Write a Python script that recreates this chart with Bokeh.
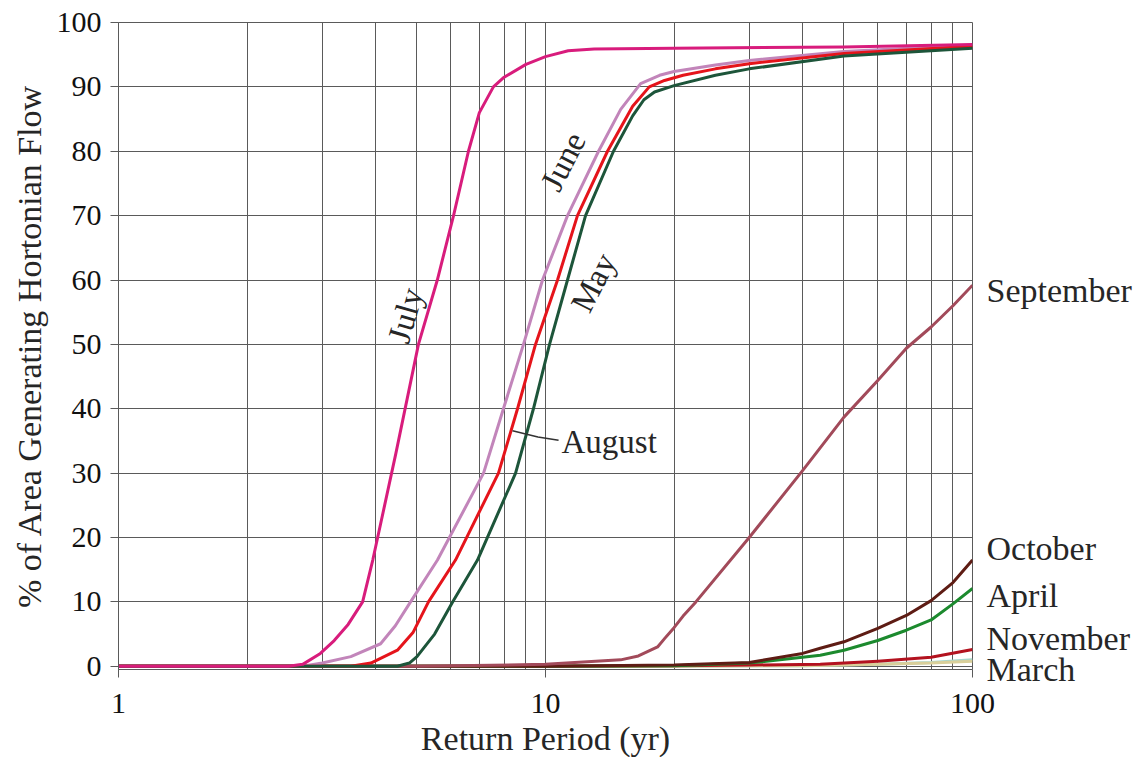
from bokeh.plotting import figure
from bokeh.models import Range1d, FixedTicker, Label, LinearAxis
from bokeh.embed import file_html
from bokeh.resources import INLINE

# ---------------- data ----------------
july_x = [1, 2.5, 2.7, 2.97, 3.2, 3.45, 3.73, 3.94, 4.46, 5.04, 5.58, 6.09, 6.6, 7.0, 7.55, 8.0, 9.0, 10, 11.3, 13, 20, 50, 100]
july_y = [0, 0, 0.3, 2, 4, 6.5, 10, 16.5, 33, 50, 60, 70, 80, 86, 90, 91.5, 93.5, 94.7, 95.6, 95.9, 96, 96.2, 96.6]

june_x = [1, 2.7, 3.0, 3.5, 4.11, 4.45, 4.83, 5.585, 7.16, 7.97, 8.88, 9.84, 11.26, 13.31, 15, 16.7, 18.5, 20, 25, 30, 50, 100]
june_y = [0, 0, 0.5, 1.5, 3.5, 6.3, 10, 16.5, 30, 40, 50, 60, 70, 80, 86.5, 90.5, 91.8, 92.4, 93.4, 94.1, 95.5, 96.5]

august_x = [1, 3.5, 3.9, 4.5, 4.9, 5.32, 6.155, 7.76, 8.60, 9.475, 10.67, 11.88, 13.97, 16, 17.5, 19, 21, 25, 30, 50, 100]
august_y = [0, 0, 0.5, 2.5, 5.3, 10, 16.5, 30, 40, 50, 60, 70, 80, 87, 90, 91, 91.8, 92.8, 93.6, 95.2, 96.3]

may_x = [1, 4.5, 4.8, 5.0, 5.5, 6.06, 6.93, 8.51, 9.37, 10.22, 11.26, 12.41, 14.43, 16, 17, 18, 20, 25, 30, 50, 100]
may_y = [0, 0, 0.5, 1.5, 5, 10, 16.5, 30, 40, 50, 60, 70, 80, 85.5, 88, 89.2, 90.2, 91.8, 92.8, 94.8, 96]

september_x = [1, 5, 10, 15, 16.5, 18.3, 19, 20, 21, 22.5, 30, 40, 50, 60, 70, 80, 90, 100]
september_y = [0, 0, 0.3, 1.0, 1.6, 3, 4.3, 6, 7.8, 10, 20, 30.4, 38.7, 44.4, 49.4, 52.7, 56, 59.2]

october_x = [1, 10, 20, 30, 40, 44, 50, 60, 70, 80, 90, 100]
october_y = [0, 0, 0.2, 0.6, 2.0, 2.8, 3.8, 5.9, 7.9, 10.2, 13, 16.5]

april_x = [1, 10, 20, 30, 40, 44, 50, 60, 70, 80, 90, 100]
april_y = [0, 0, 0.1, 0.5, 1.4, 1.7, 2.5, 4.0, 5.6, 7.2, 9.7, 12.1]

november_x = [1, 10, 20, 30, 44, 60, 80, 100]
november_y = [0, 0, 0.1, 0.2, 0.3, 0.8, 1.4, 2.6]

unlabeled_x = [1, 20, 40, 60, 80, 100]
unlabeled_y = [0, 0, 0.1, 0.3, 0.5, 0.8]

march_x = [1, 20, 40, 60, 80, 100]
march_y = [0, 0, 0.1, 0.3, 0.6, 1.0]

x_major = [1, 10, 100]
x_minor = [2, 3, 4, 5, 6, 7, 8, 9, 20, 30, 40, 50, 60, 70, 80, 90]
y_ticks = [0, 10, 20, 30, 40, 50, 60, 70, 80, 90, 100]

right_labels = ["September", "October", "April", "November", "March"]
right_label_y = [58.4, 18.3, 11.0, 4.3, -0.45]

# ---------------- figure ----------------
SERIF = "Liberation Serif"
GRID = "#5a5a5a"
TXT = "#262626"

p = figure(x_axis_type="log", output_backend="svg", toolbar_location=None,
           frame_width=854, frame_height=647,
           min_border_left=118, min_border_right=166,
           min_border_top=22, min_border_bottom=88,
           x_range=Range1d(1, 100), y_range=Range1d(-0.5, 100),
           background_fill_color="white", border_fill_color="white")

p.outline_line_color = GRID
p.outline_line_width = 1

p.xaxis.ticker = FixedTicker(ticks=x_major, minor_ticks=x_minor)
p.yaxis.ticker = FixedTicker(ticks=y_ticks)
p.xaxis.major_label_overrides = {1: "1", 10: "10", 100: "100"}

p.xgrid.grid_line_color = GRID
p.xgrid.grid_line_width = 1
p.xgrid.minor_grid_line_color = GRID
p.xgrid.minor_grid_line_width = 1
p.ygrid.grid_line_color = GRID
p.ygrid.grid_line_width = 1

for ax in (p.xaxis[0], p.yaxis[0]):
    ax.axis_line_color = GRID
    ax.major_tick_line_color = GRID
    ax.major_tick_out = 8
    ax.major_tick_in = 0
    ax.minor_tick_line_color = None
    ax.major_label_text_font = SERIF
    ax.major_label_text_font_size = "30px"
    ax.major_label_text_color = "#111111"
    ax.axis_label_text_font = SERIF
    ax.axis_label_text_font_size = "34px"
    ax.axis_label_text_font_style = "normal"
    ax.axis_label_text_color = TXT

p.xaxis.axis_line_color = None
p.xaxis.axis_label = "Return Period (yr)"
p.xaxis.major_label_standoff = 16
p.xaxis.axis_label_standoff = 4
p.yaxis.axis_label = "% of Area Generating Hortonian Flow"
p.yaxis.major_label_standoff = 9
p.yaxis.axis_label_standoff = 6

# month names at the right edge, drawn as a tick-less axis
right_ax = LinearAxis(ticker=FixedTicker(ticks=right_label_y),
                      major_label_overrides={v: t for v, t in zip(right_label_y, right_labels)},
                      axis_line_color=None, major_tick_line_color=None,
                      minor_tick_line_color=None, major_tick_out=0, major_tick_in=0,
                      major_label_standoff=14,
                      major_label_text_font=SERIF, major_label_text_font_size="34px",
                      major_label_text_color=TXT)
p.add_layout(right_ax, "right")

LW = 3
series = [
    (march_x, march_y, "#a6d6cc"),
    (unlabeled_x, unlabeled_y, "#d9cf9a"),
    (november_x, november_y, "#b3121f"),
    (april_x, april_y, "#1c8a2e"),
    (october_x, october_y, "#5e1c14"),
    (september_x, september_y, "#a24a5a"),
    (june_x, june_y, "#c285ba"),
    (august_x, august_y, "#e5141b"),
    (may_x, may_y, "#1d553a"),
    (july_x, july_y, "#d81c7c"),
]
for xs, ys, c in series:
    p.line(xs, ys, line_color=c, line_width=LW, line_join="round")

# in-plot labels
def lab(x, y, text, angle=0, align="center"):
    p.add_layout(Label(x=x, y=y, text=text, angle=angle, angle_units="deg",
                       text_font=SERIF, text_font_size="33px", text_color=TXT,
                       text_align=align, text_baseline="middle"))

lab(4.70, 54.5, "July", 74)
lab(11.0, 78.4, "June", 63)
lab(12.95, 59.6, "May", 63)
lab(10.9, 34.8, "August", 0, "left")
p.line([8.37, 9.6, 10.73], [36.6, 35.6, 35.1], line_color="#333333", line_width=1.5)

open("out.html", "w").write(file_html(p, INLINE))
